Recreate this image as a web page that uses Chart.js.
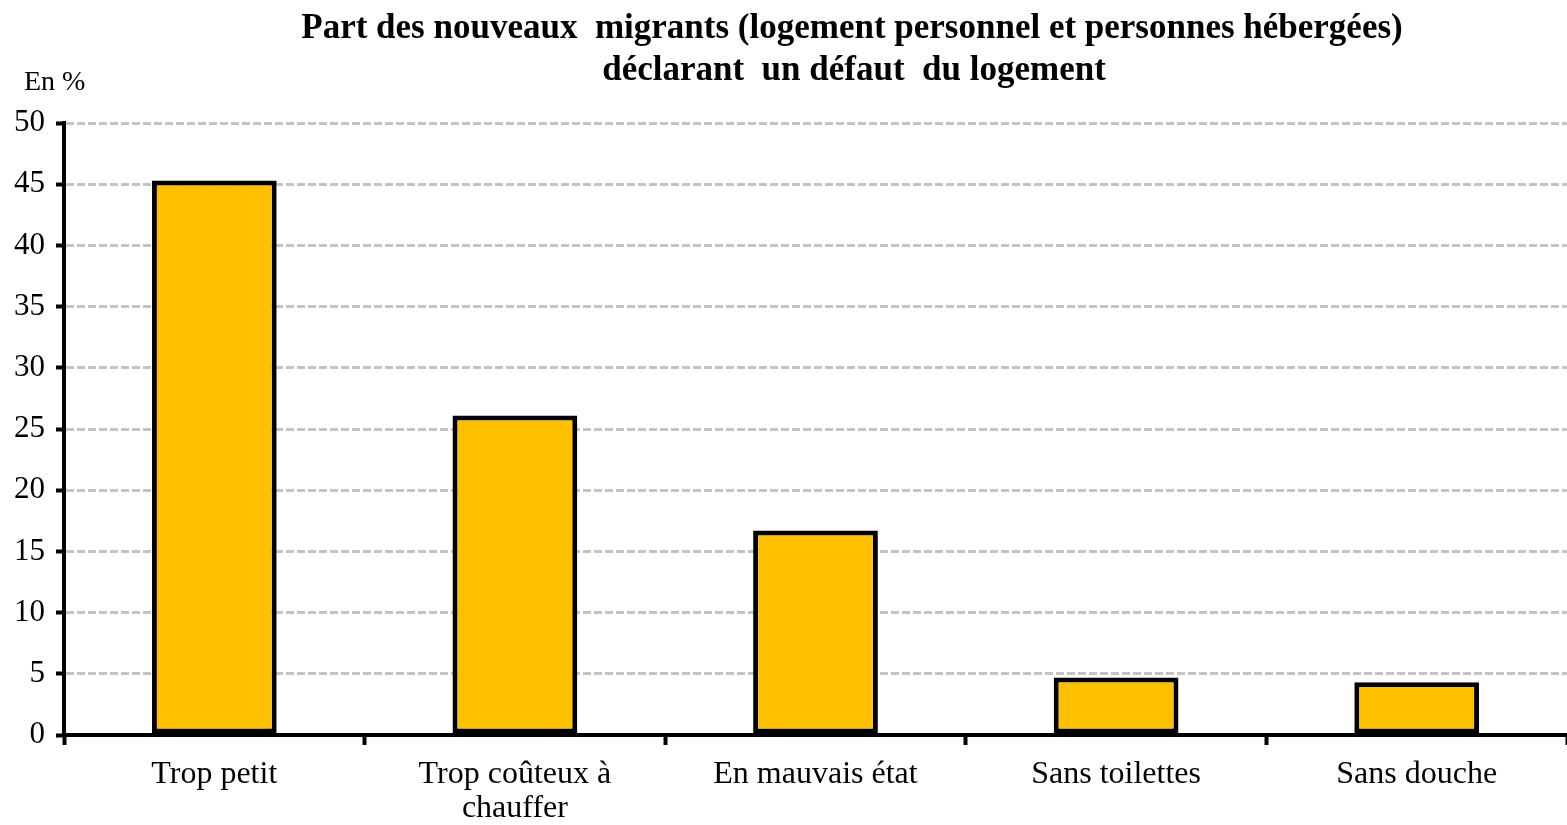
<!DOCTYPE html>
<html>
<head>
<meta charset="utf-8">
<script src="https://cdn.jsdelivr.net/npm/chart.js@4"></script>
<style>
html,body{margin:0;padding:0;background:#fff;}
#wrap{position:relative;width:1567px;height:825px;}
</style>
</head>
<body>
<div id="wrap"><canvas id="c" width="1567" height="825"></canvas></div>
<script>
const categories = ['Trop petit', ['Trop coûteux à', 'chauffer'], 'En mauvais état', 'Sans toilettes', 'Sans douche'];
const values = [45.3, 26.1, 16.7, 4.7, 4.3];
const titleLines = ['Part des nouveaux  migrants (logement personnel et personnes hébergées)', 'déclarant  un défaut  du logement'];
const unitLabel = 'En %';
const yTicks = [0, 5, 10, 15, 20, 25, 30, 35, 40, 45, 50];

const FONT = '"Liberation Serif", "Times New Roman", serif';

const textPlugin = {
  id: 'textPlugin',
  afterDraw(chart) {
    const ctx = chart.ctx;
    ctx.save();
    ctx.fillStyle = '#000';
    ctx.textAlign = 'center';
    ctx.textBaseline = 'middle';
    ctx.font = 'bold 35px ' + FONT;
    ctx.fillText(titleLines[0], 852, 29);
    ctx.fillText(titleLines[1], 854, 71);
    ctx.textAlign = 'left';
    ctx.font = '28px ' + FONT;
    ctx.fillText(unitLabel, 24, 83);
    ctx.restore();
  }
};

new Chart(document.getElementById('c'), {
  type: 'bar',
  data: {
    labels: categories,
    datasets: [{
      data: values,
      backgroundColor: '#FFC000',
      borderColor: '#000',
      borderWidth: 5,
      borderSkipped: false,
      categoryPercentage: 1,
      barPercentage: 0.415
    }]
  },
  options: {
    responsive: false,
    animation: false,
    devicePixelRatio: 1,
    layout: { padding: { top: 123, right: 0, bottom: 0, left: 0 } },
    plugins: { legend: { display: false }, title: { display: false }, tooltip: { enabled: false } },
    scales: {
      x: {
        afterFit(scale) { scale.height = 90; },
        grid: {
          display: true,
          offset: true,
          drawOnChartArea: false,
          drawTicks: true,
          tickLength: 10,
          tickColor: '#000',
          tickWidth: 4
        },
        border: { display: true, color: '#000', width: 4 },
        ticks: {
          color: '#000',
          font: { family: FONT, size: 32, lineHeight: 1.06 },
          padding: 13,
          maxRotation: 0,
          autoSkip: false
        }
      },
      y: {
        min: 0,
        max: 50,
        afterBuildTicks(scale) { scale.ticks = yTicks.map(v => ({ value: v })); },
        afterFit(scale) { scale.width = 64; },
        grid: {
          color: '#C4C4C4',
          lineWidth: 3,
          drawTicks: true,
          tickLength: 8,
          tickColor: '#000',
          tickWidth: 4,
          tickBorderDash: []
        },
        border: { display: true, color: '#000', width: 4, dash: [8, 3] },
        ticks: {
          color: '#000',
          font: { family: FONT, size: 31 },
          padding: 11
        }
      }
    }
  },
  plugins: [textPlugin]
});
</script>
</body>
</html>
